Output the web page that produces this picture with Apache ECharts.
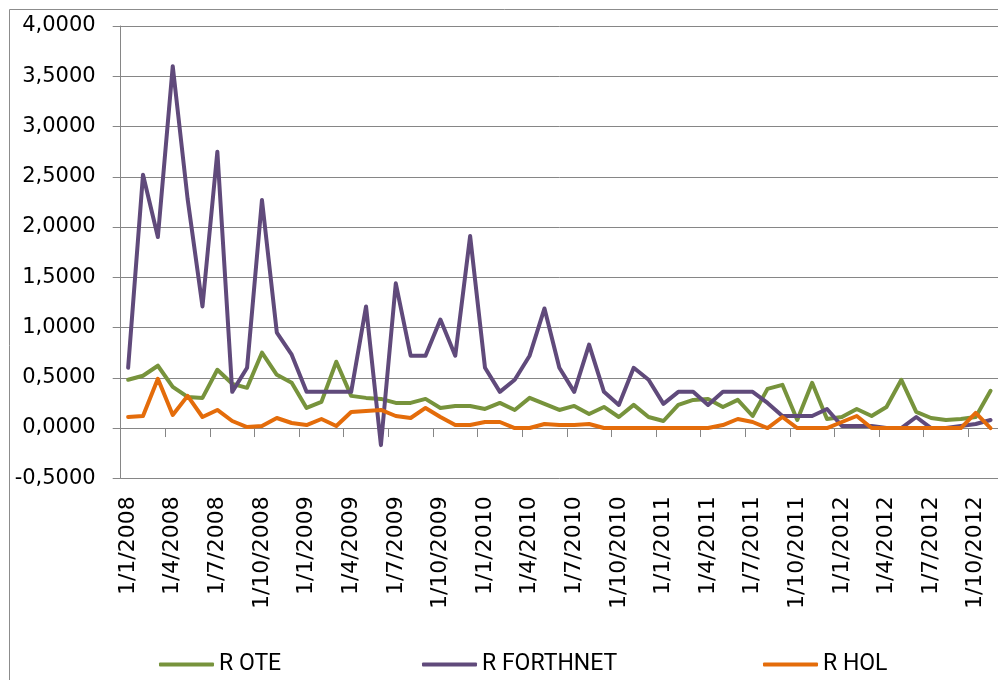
<!DOCTYPE html>
<html>
<head>
<meta charset="utf-8">
<script src="https://cdn.jsdelivr.net/npm/echarts@6/dist/echarts.min.js"></script>
<style>
html,body{margin:0;padding:0;background:#fff;}
#chart{width:998px;height:680px;}
</style>
</head>
<body>
<div id="chart"></div>
<script>
var categories = [
'1/1/2008','1/2/2008','1/3/2008','1/4/2008','1/5/2008','1/6/2008','1/7/2008','1/8/2008','1/9/2008','1/10/2008','1/11/2008','1/12/2008',
'1/1/2009','1/2/2009','1/3/2009','1/4/2009','1/5/2009','1/6/2009','1/7/2009','1/8/2009','1/9/2009','1/10/2009','1/11/2009','1/12/2009',
'1/1/2010','1/2/2010','1/3/2010','1/4/2010','1/5/2010','1/6/2010','1/7/2010','1/8/2010','1/9/2010','1/10/2010','1/11/2010','1/12/2010',
'1/1/2011','1/2/2011','1/3/2011','1/4/2011','1/5/2011','1/6/2011','1/7/2011','1/8/2011','1/9/2011','1/10/2011','1/11/2011','1/12/2011',
'1/1/2012','1/2/2012','1/3/2012','1/4/2012','1/5/2012','1/6/2012','1/7/2012','1/8/2012','1/9/2012','1/10/2012','1/11/2012'
];
var rOTE = [
0.48,0.52,0.62,0.41,0.31,0.30,0.58,0.44,0.40,0.75,0.53,0.45,
0.20,0.26,0.66,0.32,0.30,0.29,0.25,0.25,0.29,0.20,0.22,0.22,
0.19,0.25,0.18,0.30,0.24,0.18,0.22,0.14,0.21,0.11,0.23,0.11,
0.07,0.23,0.28,0.29,0.21,0.28,0.12,0.39,0.43,0.08,0.45,0.09,
0.11,0.19,0.12,0.21,0.48,0.16,0.10,0.08,0.09,0.11,0.37
];
var rFORTHNET = [
0.60,2.52,1.90,3.60,2.28,1.21,2.75,0.36,0.60,2.27,0.95,0.73,
0.36,0.36,0.36,0.36,1.21,-0.17,1.44,0.72,0.72,1.08,0.72,1.91,
0.60,0.36,0.48,0.72,1.19,0.60,0.36,0.83,0.36,0.23,0.60,0.48,
0.24,0.36,0.36,0.23,0.36,0.36,0.36,0.25,0.12,0.12,0.12,0.19,
0.02,0.02,0.02,0.00,0.00,0.11,0.00,0.00,0.02,0.04,0.08
];
var rHOL = [
0.11,0.12,0.49,0.13,0.32,0.11,0.18,0.07,0.01,0.02,0.10,0.05,
0.03,0.09,0.02,0.16,0.17,0.18,0.12,0.10,0.20,0.11,0.03,0.03,
0.06,0.06,0.00,0.00,0.04,0.03,0.03,0.04,0.00,0.00,0.00,0.00,
0.00,0.00,0.00,0.00,0.03,0.09,0.06,0.00,0.11,0.00,0.00,0.00,
0.06,0.12,0.00,0.00,0.00,0.00,0.00,0.00,0.00,0.15,0.00
];
var seriesNames = ['R OTE','R FORTHNET','R HOL'];
var seriesColors = ['#77933C','#604A7B','#E46C0A'];

var chart = echarts.init(document.getElementById('chart'), null, {renderer:'canvas'});
var gridColor = '#868686';
function legendFor(i, left){
  return {
    data:[seriesNames[i]], left:left, top:648, orient:'horizontal',
    icon:'roundRect', itemWidth:55, itemHeight:4,
    textStyle:{fontFamily:'Roboto', fontSize:23, color:'#000', padding:[0,0,0,0]}
  };
}
var option = {
  animation:false,
  backgroundColor:'#fff',
  graphic:[{
    type:'rect', z:-10, silent:true,
    shape:{x:9.5, y:9.5, width:1200, height:1000},
    style:{fill:'#fff', stroke:'#8c8c8c', lineWidth:1}
  }],
  legend:[legendFor(0,154), legendFor(1,417), legendFor(2,758)],
  grid:{left:120.7, right:0, top:26, bottom:201.7, containLabel:false},
  xAxis:{
    type:'category', data:categories, boundaryGap:true,
    axisLine:{show:true, onZero:true, lineStyle:{color:gridColor, width:1}},
    axisTick:{show:true, interval:2, length:9, lineStyle:{color:gridColor}},
    axisLabel:{interval:2, rotate:90, margin:18, fontFamily:'DejaVu Sans', fontSize:22, color:'#000'},
    splitLine:{show:false}
  },
  yAxis:{
    type:'value', min:-0.5, max:4, interval:0.5,
    axisLine:{show:true, lineStyle:{color:gridColor, width:1}},
    axisTick:{show:true, length:8, lineStyle:{color:gridColor}},
    axisLabel:{margin:25, fontFamily:'DejaVu Sans', fontSize:21, color:'#000',
      formatter:function(v){return v.toFixed(4).replace('.',',');}},
    splitLine:{show:true, lineStyle:{color:gridColor, width:1}}
  },
  series:[rOTE, rFORTHNET, rHOL].map(function(d,i){
    return {
      name:seriesNames[i], type:'line', data:d, symbol:'none',
      color:seriesColors[i],
      lineStyle:{width:4, color:seriesColors[i], cap:'round', join:'round'},
      itemStyle:{color:seriesColors[i]}
    };
  })
};
chart.setOption(option);
</script>
</body>
</html>
